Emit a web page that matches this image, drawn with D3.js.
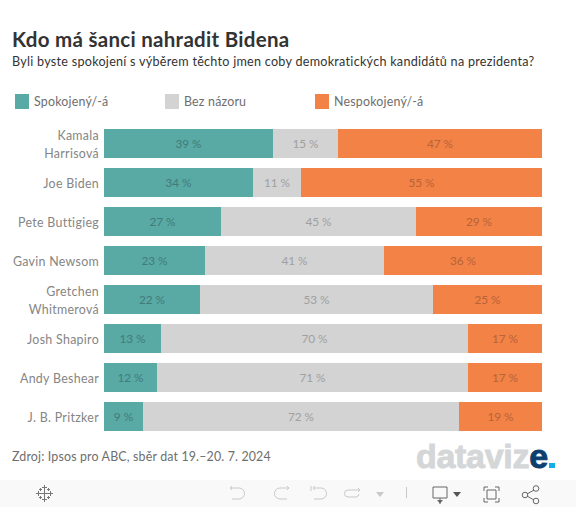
<!DOCTYPE html>
<html><head><meta charset="utf-8">
<script src="https://cdn.jsdelivr.net/npm/d3@7/dist/d3.min.js"></script>
<style>html,body{margin:0;padding:0;background:#fff;overflow:hidden}svg{display:block}text{font-family:Lato,sans-serif}</style>
</head><body><svg id="c" width="576" height="507"></svg>
<script>
const categories=["Kamala Harrisová","Joe Biden","Pete Buttigieg","Gavin Newsom","Gretchen Whitmerová","Josh Shapiro","Andy Beshear","J. B. Pritzker"];
const categoryLines=[["Kamala","Harrisová"],["Joe Biden"],["Pete Buttigieg"],["Gavin Newsom"],["Gretchen","Whitmerová"],["Josh Shapiro"],["Andy Beshear"],["J. B. Pritzker"]];
const spokojeny=[39,34,27,23,22,13,12,9];
const bezNazoru=[15,11,45,41,53,70,71,72];
const nespokojeny=[47,55,29,36,25,17,17,19];
const seriesNames=["Spokojený/-á","Bez názoru","Nespokojený/-á"];
const seriesValues=[spokojeny,bezNazoru,nespokojeny];
const seriesColors=["#59a9a5","#d3d3d3","#f28245"];
const labelColors=["#427c79","#a0a0a0","#b8633a"];

const svg=d3.select("#c");
svg.append("text").attr("x",12).attr("y",47).attr("font-size",20.5).attr("letter-spacing",0.29).attr("font-weight",700).attr("fill","#333").text("Kdo má šanci nahradit Bidena");
svg.append("text").attr("x",12).attr("y",66).attr("font-size",12.6).attr("letter-spacing",0.265).attr("fill","#333").text("Byli byste spokojení s výběrem těchto jmen coby demokratických kandidátů na prezidenta?");

const legendX=d3.scalePoint().domain(seriesNames).range([15,315]);
const lg=svg.append("g").selectAll("g").data(seriesNames).join("g").attr("transform",d=>`translate(${legendX(d)},94)`);
lg.append("rect").attr("width",14).attr("height",15).attr("fill",(d,i)=>seriesColors[i]);
lg.append("text").attr("x",19).attr("y",12).attr("font-size",12.4).attr("letter-spacing",0.2).attr("fill","#6e6e6e").text(d=>d);

const y=d3.scaleBand().domain(categories).range([124,436]).paddingInner(10/39).paddingOuter(5/39);
const x=d3.scaleLinear().domain([0,1]).range([104,542]).interpolate(d3.interpolateRound);
const rows=categories.map((c,i)=>{
  const vals=seriesValues.map(s=>s[i]);const total=d3.sum(vals);let acc=0;
  return vals.map((v,j)=>{const o={c,j,v,x0:acc/total,x1:(acc+v)/total};acc+=v;return o;});
});
const row=svg.append("g").selectAll("g").data(rows).join("g").attr("transform",(d,i)=>`translate(0,${y(categories[i])})`);
row.selectAll("rect").data(d=>d).join("rect")
  .attr("x",d=>x(d.x0)).attr("width",d=>x(d.x1)-x(d.x0)).attr("height",y.bandwidth()).attr("fill",d=>seriesColors[d.j]);
row.selectAll("text.v").data(d=>d).join("text").attr("class","v")
  .attr("x",d=>(x(d.x0)+x(d.x1))/2).attr("y",y.bandwidth()/2+4.5).attr("text-anchor","middle")
  .attr("font-size",11.8).attr("fill",d=>labelColors[d.j]).text(d=>d.v+" %");
categoryLines.forEach((ls,i)=>{
  const cy=y(categories[i])+y.bandwidth()/2;
  ls.forEach((l,k)=>svg.append("text").attr("x",99).attr("y",cy+5.5+(k-(ls.length-1)/2)*18).attr("text-anchor","end")
    .attr("font-size",12.4).attr("letter-spacing",0.3).attr("fill","#858585").text(l));
});

svg.append("text").attr("x",12).attr("y",461).attr("font-size",12.4).attr("letter-spacing",0.16).attr("fill","#6e6e6e").text("Zdroj: Ipsos pro ABC, sběr dat 19.–20. 7. 2024");

const logo=svg.append("text").attr("x",416).attr("y",468).attr("font-size",34).attr("letter-spacing",-0.3).style("font-family","'Liberation Sans',sans-serif").attr("font-weight",700).attr("stroke-width",0.9);
logo.append("tspan").attr("fill","#d4d6d8").attr("stroke","#d4d6d8").text("dataviz");
logo.append("tspan").attr("fill","#0d3f6e").attr("stroke","#0d3f6e").text("e");
svg.append("rect").attr("x",549).attr("y",463).attr("width",6).attr("height",5).attr("fill","#12aee8");

svg.append("rect").attr("x",0).attr("y",480).attr("width",576).attr("height",27).attr("fill","#f9f9f9");
const ic=svg.append("g").attr("fill","none").attr("stroke","#c9c9c9").attr("stroke-width",1);
ic.append("path").attr("d","M232 486l-2 2 2 2M230 488h9a5.500 5.500 0 0 1 0 11h-7");
ic.append("path").attr("d","M287 486l2 2-2 2M289 488h-9a5.500 5.500 0 0 0 0 11h7");
ic.append("path").attr("d","M311 486v5M315 486l-2 2 2 2M313 488h8a5.500 5.500 0 0 1 0 11h-7");
ic.append("path").attr("d","M358 488l2 2-2 2M360 490h-12a3.500 3.500 0 0 0 0 7h8a3.500 3.500 0 0 0 3-3");
svg.append("path").attr("d","M376 492h8l-4 5z").attr("fill","#c9c9c9");
svg.append("path").attr("d","M406.500 487v11").attr("stroke","#c9c9c9");
const dk=svg.append("g").attr("fill","none").attr("stroke","#666").attr("stroke-width",1);
dk.append("path").attr("d","M433 487h14v11h-14zM440 498v6");
svg.append("path").attr("d","M437 500h6l-3 3.500z").attr("fill","#666");
svg.append("path").attr("d","M453 492h8l-4 5z").attr("fill","#555");
dk.append("path").attr("d","M484 491v-4h4M495 487h4v4M499 498v4h-4M488 502h-4v-4M487 490h9v9h-9z");
dk.append("path").attr("d","M527 494l7-4M527 496l7 4");
[[525,495],[536,488.500],[536,501]].forEach(p=>dk.append("circle").attr("cx",p[0]).attr("cy",p[1]).attr("r",2.800));
const t=svg.append("g").attr("stroke","#777").attr("stroke-width",1).attr("fill","none");
[[44.5,493.5,4],[44.5,487.5,2.5],[44.5,499.5,2.5],[38.5,493.5,2.5],[50.5,493.5,2.5],[40.5,489.5,1.5],[48.5,489.5,1.5],[40.5,497.5,1.5],[48.5,497.5,1.5]]
  .forEach(c=>t.append("path").attr("d",`M${c[0]-c[2]} ${c[1]}h${2*c[2]}M${c[0]} ${c[1]-c[2]}v${2*c[2]}`));
</script></body></html>
